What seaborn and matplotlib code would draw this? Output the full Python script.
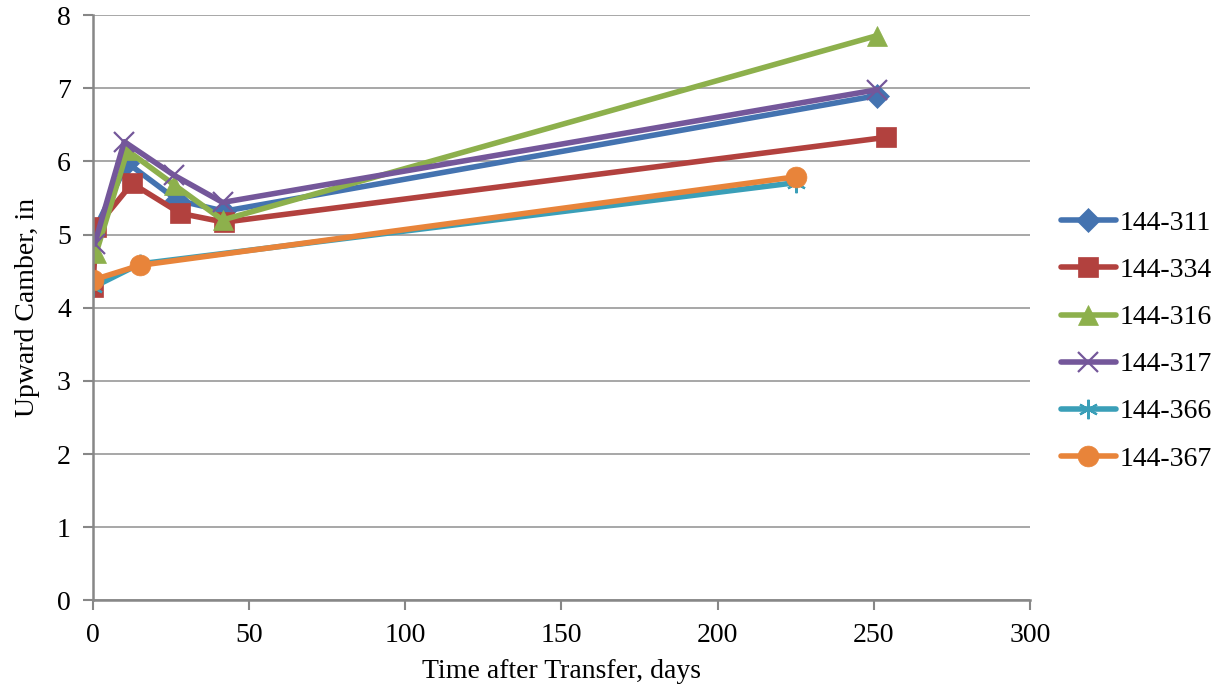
import matplotlib
matplotlib.use("Agg")
import matplotlib.pyplot as plt
import seaborn as sns
import pandas as pd

names = ["144-311", "144-334", "144-316", "144-317", "144-366", "144-367"]
days_311 = [0, 11, 27, 42, 251]
camber_311 = [5.02, 5.98, 5.47, 5.32, 6.9]
days_334 = [0, 1, 12.5, 28, 42, 254]
camber_334 = [4.28, 5.1, 5.7, 5.29, 5.17, 6.33]
days_316 = [1, 11, 26, 41.5, 251]
camber_316 = [4.75, 6.15, 5.68, 5.2, 7.72]
days_317 = [0.5, 10, 26, 41.5, 251]
camber_317 = [4.87, 6.27, 5.81, 5.44, 6.98]
days_366 = [0, 15, 225]
camber_366 = [4.28, 4.6, 5.71]
days_367 = [0, 15, 225]
camber_367 = [4.38, 4.58, 5.79]

all_days = [days_311, days_334, days_316, days_317, days_366, days_367]
all_camber = [camber_311, camber_334, camber_316, camber_317, camber_366, camber_367]

colors = ["#4473B0", "#B2413E", "#8DB04C", "#74579A", "#3A9FB8", "#E8843A"]
markers = ["D", "s", "^", "x", (6, 2, 0), "o"]
msizes = [12, 14, 14, 14, 14, 15]

sns.set_theme(style="white")
plt.rcParams["font.family"] = ["Liberation Serif", "DejaVu Serif"]

fig = plt.figure(figsize=(12.16, 6.9), dpi=100)
ax = fig.add_axes([0.0765, 0.130, 0.7705, 0.848])

for name, d, c, col, mk, ms in zip(names, all_days, all_camber, colors, markers, msizes):
    df = pd.DataFrame({"day": d, "camber": c})
    sns.lineplot(data=df, x="day", y="camber", ax=ax, color=col, marker=mk,
                 markersize=ms, linewidth=4, label=name, sort=False,
                 markeredgecolor=col,
                 markeredgewidth=1.6 if mk in ("x", (6, 2, 0)) else 0.5,
                 solid_capstyle="round", solid_joinstyle="round")

ax.set_xlim(0, 300)
ax.set_ylim(0, 8)
ax.set_xticks(range(0, 301, 50))
ax.set_yticks(range(0, 9, 1))
ax.yaxis.grid(True, color="#A0A0A0", linewidth=1.3)
ax.xaxis.grid(False)
for s in ["top", "right"]:
    ax.spines[s].set_visible(False)
for s in ["left", "bottom"]:
    ax.spines[s].set_color("#878787")
    ax.spines[s].set_linewidth(1.8)
ax.tick_params(axis="both", labelsize=20, length=7, width=1.5, color="#878787",
               direction="out", left=True, bottom=True, pad=9, labelcolor="black")
ax.set_xlabel("Time after Transfer, days", fontsize=20, color="black", labelpad=8)
ax.set_ylabel("Upward Camber, in", fontsize=20, color="black", labelpad=12)

leg = ax.legend(loc="center left", bbox_to_anchor=(1.006, 0.443), frameon=False,
                fontsize=20, handlelength=2.0, labelspacing=0.78, handletextpad=0.12,
                numpoints=1)
for t in leg.get_texts():
    t.set_color("black")

fig.savefig("out.png", dpi=100)
